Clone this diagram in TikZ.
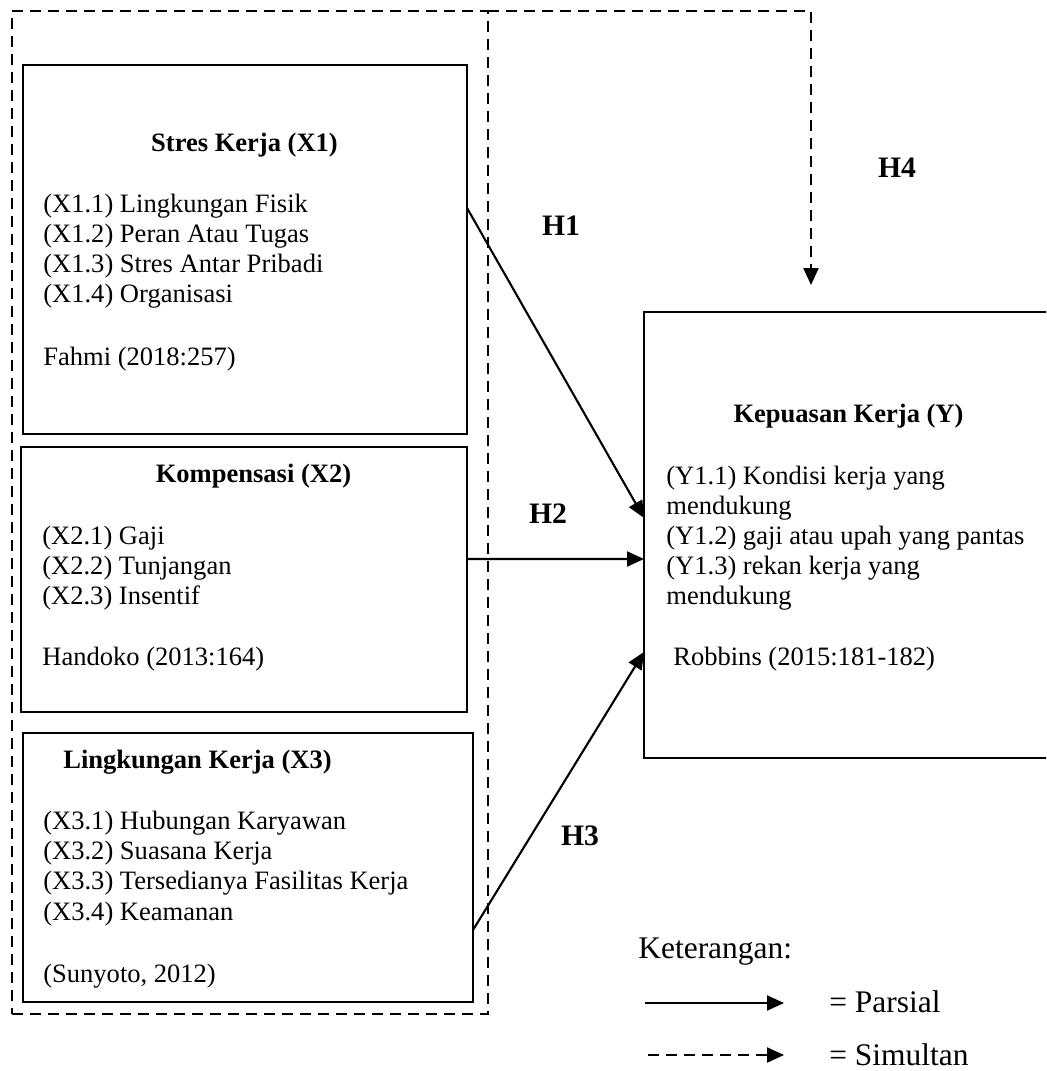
\documentclass[tikz,border=0pt]{standalone}
\usepackage{fontspec}
\setmainfont{Liberation Serif}
\usetikzlibrary{arrows.meta}

\begin{document}
\begin{tikzpicture}[
    x=0.2mm, y=-0.2mm,
    varbox/.style={draw, line width=1.3pt, inner sep=0pt, outer sep=0pt},
    frame/.style={draw, line width=1.3pt, dash pattern=on 2.2mm off 1.4mm, inner sep=0pt, outer sep=0pt},
    title/.style={anchor=base, inner sep=0pt, font=\bfseries\fontsize{15.1}{17}\selectfont},
    item/.style={anchor=base west, inner sep=0pt, font=\fontsize{15.1}{17}\selectfont},
    hlabel/.style={anchor=base, inner sep=0pt, font=\bfseries\fontsize{16.9}{20}\selectfont},
    legend/.style={anchor=base west, inner sep=0pt, font=\fontsize{17.9}{21}\selectfont},
    partial/.style={line width=1.2pt, -{Triangle[length=3.4mm, width=3mm]}},
    simultan/.style={partial, line width=1.3pt, dash pattern=on 2.2mm off 1.4mm}
]

% ---------------------------------------------------------------
%  Units are pixels of the 1046 x 1071 layout (1 px = 0.2 mm),
%  y grows downwards.
% ---------------------------------------------------------------
\useasboundingbox (0,0) rectangle (1046,1071);
\clip (0,0) rectangle (1046,1071);

% ---- Independent variables (X1, X2, X3) ----
\node[varbox, minimum width=88.8mm, minimum height=73.8mm] (x1) at (245,249.5) {};
\node[varbox, minimum width=89.2mm, minimum height=53mm]   (x2) at (244,579.5) {};
\node[varbox, minimum width=90mm,   minimum height=53.8mm] (x3) at (248,867.5) {};

% ---- Dependent variable (Y), right edge runs off the page ----
\node[varbox, minimum width=83.2mm, minimum height=89.2mm] (ybox) at (852,535) {};

% ---- Dashed frame round X1..X3 (simultaneous test) ----
\node[frame, minimum width=95.2mm, minimum height=200.6mm] (group) at (250,512.5) {};

% ---- Box texts ----
\node[title] (x1title) at (244.5,151) {Stres Kerja (X1)};
\foreach \lbl [count=\i] in {{(X1.1) Lingkungan Fisik}, {(X1.2) Peran Atau Tugas},
        {(X1.3) Stres Antar Pribadi}, {(X1.4) Organisasi}}
    \node[item] (x1item\i) at (43,182+30*\i) {\lbl};
\node[item] (x1src) at (43,365) {Fahmi (2018:257)};

\node[title] (x2title) at (253.5,482) {Kompensasi (X2)};
\foreach \lbl [count=\i] in {{(X2.1) Gaji}, {(X2.2) Tunjangan}, {(X2.3) Insentif}}
    \node[item] (x2item\i) at (42,514+30*\i) {\lbl};
\node[item] (x2src) at (42,665) {Handoko (2013:164)};

\node[title] (x3title) at (197.5,768) {Lingkungan Kerja (X3)};
\foreach \lbl [count=\i] in {{(X3.1) Hubungan Karyawan}, {(X3.2) Suasana Kerja},
        {(X3.3) Tersedianya Fasilitas Kerja}, {(X3.4) Keamanan}}
    \node[item] (x3item\i) at (43,799+30.3*\i) {\lbl};
\node[item] (x3src) at (43,982) {(Sunyoto, 2012)};

\node[title] (ytitle) at (848.5,422) {Kepuasan Kerja (Y)};
\foreach \lbl [count=\i] in {{(Y1.1) Kondisi kerja yang}, {mendukung},
        {(Y1.2) gaji atau upah yang pantas}, {(Y1.3) rekan kerja yang}, {mendukung}}
    \node[item] (yitem\i) at (666,454+30*\i) {\lbl};
\node[item] (ysrc) at (673,665) {Robbins (2015:181-182)};

% ---- Partial hypotheses H1..H3 ----
\draw[partial] ([yshift=8.3mm]x1.east)   -- ([yshift=3.4mm]ybox.west);
\draw[partial] ([yshift=4.1mm]x2.east)   -- ([yshift=-4.8mm]ybox.west);
\draw[partial] ([yshift=-12.5mm]x3.east) -- ([yshift=-23.4mm]ybox.west);

% ---- Simultaneous hypothesis H4 ----
\coordinate (h4end) at (811,285);
\draw[simultan] (group.north east) -| (h4end);

\node[hlabel] (h1) at (561,235) {H1};
\node[hlabel] (h2) at (548,523) {H2};
\node[hlabel] (h3) at (580,845) {H3};
\node[hlabel] (h4) at (897,177) {H4};

% ---- Legend ----
\node[legend] (legtitle) at (638,958) {Keterangan:};
\coordinate (lpstart) at (645,1003);
\coordinate (lpend)   at (784,1003);
\coordinate (lsstart) at (648,1055);
\coordinate (lsend)   at (784,1055);
\draw[partial]  (lpstart) -- (lpend);
\draw[simultan] (lsstart) -- (lsend);
\node[legend] (legpartial)  at (829,1012) {= Parsial};
\node[legend] (legsimultan) at (829,1065) {= Simultan};

\end{tikzpicture}
\end{document}
